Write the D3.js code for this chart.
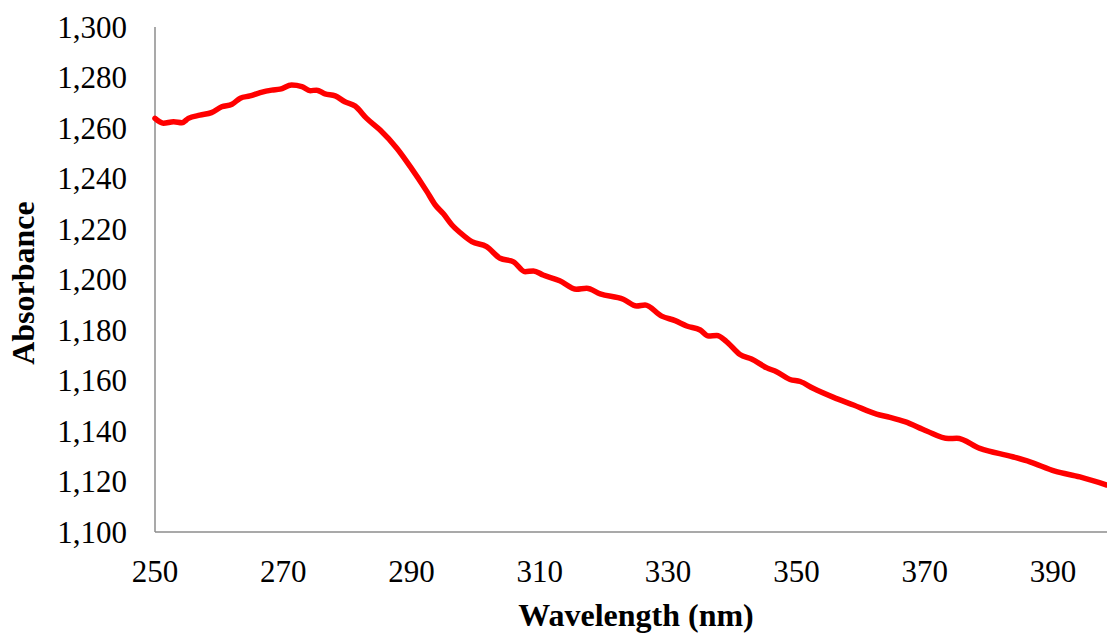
<!DOCTYPE html>
<html>
<head>
<meta charset="utf-8">
<script src="https://cdn.jsdelivr.net/npm/d3@7"></script>
<style>
  html, body { margin: 0; padding: 0; background: #fff; overflow: hidden; }
  .tick-label { font-family: "Liberation Serif", "Times New Roman", serif; font-size: 31px; fill: #000; }
  .axis-title { font-family: "Liberation Serif", "Times New Roman", serif; font-size: 32px; font-weight: bold; fill: #000; }
</style>
</head>
<body>
<div id="chart"></div>
<script>
// readings (nm, absorbance)
const wavelength = [
  250.0, 251.3, 252.9, 254.2, 255.2, 257.0, 258.8, 260.4, 262.0, 263.3,
  264.8, 266.4, 268.2, 269.5, 271.3, 272.9, 274.2, 275.2, 276.5, 278.1,
  279.6, 281.2, 283.0, 285.1, 287.7, 289.8, 292.4, 293.7, 295.0, 296.3,
  297.6, 299.4, 301.7, 303.8, 305.9, 307.7, 309.0, 310.5, 313.1, 315.7,
  317.3, 319.4, 323.0, 325.1, 326.4, 329.0, 331.1, 332.9, 335.0, 336.3,
  337.6, 339.1, 341.2, 343.0, 345.4, 346.9, 349.0, 350.6, 352.6, 355.8,
  358.9, 362.5, 364.6, 366.9, 370.3, 373.7, 375.0, 378.6, 383.7, 386.4,
  390.3, 394.2, 398.4
];
const absorbance = [
  1.2638, 1.2619, 1.2625, 1.2621, 1.2638, 1.2651, 1.2661, 1.2684, 1.2694, 1.2718,
  1.2727, 1.2740, 1.2750, 1.2754, 1.2770, 1.2764, 1.2748, 1.2750, 1.2735, 1.2727,
  1.2704, 1.2687, 1.2638, 1.2592, 1.2520, 1.2447, 1.2348, 1.2295, 1.2259, 1.2216,
  1.2185, 1.2150, 1.2130, 1.2084, 1.2070, 1.2031, 1.2034, 1.2018, 1.1995, 1.1961,
  1.1965, 1.1943, 1.1922, 1.1895, 1.1899, 1.1855, 1.1837, 1.1816, 1.1800, 1.1776,
  1.1778, 1.1754, 1.1703, 1.1685, 1.1650, 1.1635, 1.1604, 1.1596, 1.1569, 1.1533,
  1.1503, 1.1467, 1.1454, 1.1437, 1.1400, 1.1370, 1.1371, 1.1331, 1.1298, 1.1278,
  1.1241, 1.1218, 1.1186
];
const xTicks = [250, 270, 290, 310, 330, 350, 370, 390];
const yTicks = [1.100, 1.120, 1.140, 1.160, 1.180, 1.200, 1.220, 1.240, 1.260, 1.280, 1.300];

const width = 1107, height = 634;
const plotLeft = 155, plotTop = 27, plotBottom = 532;

const svg = d3.select("#chart").append("svg")
  .attr("width", width).attr("height", height);

const x = d3.scaleLinear().domain([250, 400]).range([plotLeft, plotLeft + 150 * 6.414]);
const y = d3.scaleLinear().domain([1.1, 1.3]).range([plotBottom, plotTop]);

const fmt = d => d3.format(".3f")(d).replace(".", ",");

// axis lines
svg.append("line")
  .attr("x1", plotLeft).attr("x2", plotLeft).attr("y1", plotTop).attr("y2", plotBottom)
  .attr("stroke", "#8c8c8c").attr("stroke-width", 1.5);
svg.append("line")
  .attr("x1", plotLeft).attr("x2", width).attr("y1", plotBottom).attr("y2", plotBottom)
  .attr("stroke", "#8c8c8c").attr("stroke-width", 1.5);

// tick labels
svg.selectAll(".ylab").data(yTicks).enter().append("text")
  .attr("class", "tick-label")
  .attr("x", 127).attr("y", d => y(d))
  .attr("dy", "0.35em")
  .attr("text-anchor", "end")
  .text(fmt);

svg.selectAll(".xlab").data(xTicks).enter().append("text")
  .attr("class", "tick-label")
  .attr("x", d => x(d)).attr("y", 582)
  .attr("text-anchor", "middle")
  .text(d => d);

// titles
svg.append("text").attr("class", "axis-title")
  .attr("x", 636).attr("y", 626)
  .attr("text-anchor", "middle")
  .text("Wavelength (nm)");

svg.append("text").attr("class", "axis-title")
  .attr("transform", "translate(34,283) rotate(-90)")
  .attr("text-anchor", "middle")
  .text("Absorbance");

// spectrum
const pts = wavelength.map((w, i) => [w, absorbance[i]]);
const line = d3.line()
  .x(d => x(d[0])).y(d => y(d[1]))
  .curve(d3.curveMonotoneX);

svg.append("path")
  .datum(pts)
  .attr("d", line)
  .attr("fill", "none")
  .attr("stroke", "#ff0000")
  .attr("stroke-width", 5.5)
  .attr("stroke-linejoin", "round")
  .attr("stroke-linecap", "round");
</script>
</body>
</html>
